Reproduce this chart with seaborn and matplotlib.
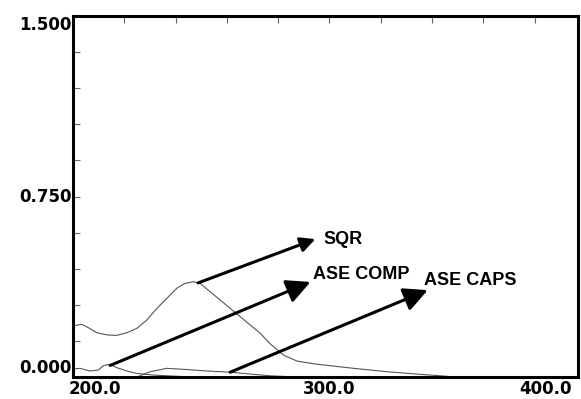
import pandas as pd
import matplotlib
matplotlib.use("Agg")
import matplotlib.pyplot as plt
import seaborn as sns

# spectra (wavelength nm, absorbance)
wl_sqr = [200.0, 200.4, 203.4, 206.0, 209.3, 213.2, 217.1, 221.0, 224.9, 228.8,
          232.7, 236.6, 240.5, 243.7, 247.0, 249.6, 253.5, 257.4, 261.3, 265.2,
          269.1, 273.0, 277.0, 282.1, 287.4, 295.2, 309.5, 322.5, 335.5, 346.0]
abs_sqr = [0.208, 0.213, 0.219, 0.205, 0.184, 0.175, 0.173, 0.184, 0.202, 0.237,
           0.285, 0.327, 0.369, 0.389, 0.396, 0.389, 0.354, 0.320, 0.285, 0.251,
           0.216, 0.182, 0.137, 0.091, 0.066, 0.053, 0.036, 0.022, 0.011, 0.003]

wl_comp = [200.0, 202.7, 206.6, 209.9, 211.8, 214.2, 217.1, 221.0, 224.9, 231.4, 244.4, 257.4]
abs_comp = [0.033, 0.036, 0.025, 0.029, 0.047, 0.053, 0.039, 0.025, 0.015, 0.008, 0.001, 0.0]

wl_caps = [224.9, 230.1, 236.6, 243.1, 250.9, 261.3, 270.4, 277.0, 287.4]
abs_caps = [0.0, 0.022, 0.036, 0.032, 0.026, 0.020, 0.011, 0.005, 0.0]

# arrow labels: name, arrow start, arrow tip, text anchor
labels = ["SQR", "ASE COMP", "ASE CAPS"]
arrow_start = [(248.8, 0.391), (214.5, 0.048), (261.3, 0.020)]
arrow_tip = [(294.5, 0.573), (292.6, 0.395), (338.3, 0.361)]
text_pos = [(297.7, 0.570), (293.4, 0.424), (336.7, 0.403)]
head_size = [11, 18, 18]

x_labels = ["200.0", "300.0", "400.0"]
y_labels = ["0.000", "0.750", "1.500"]

sns.set_style("white")

df = pd.concat([
    pd.DataFrame({"wl": wl_sqr, "abs": abs_sqr, "name": "SQR"}),
    pd.DataFrame({"wl": wl_comp, "abs": abs_comp, "name": "ASE COMP"}),
    pd.DataFrame({"wl": wl_caps, "abs": abs_caps, "name": "ASE CAPS"}),
])

fig = plt.figure(figsize=(5.81, 3.99), dpi=100)
ax = fig.add_axes([0.1256, 0.0551, 0.8692, 0.9048])

sns.lineplot(data=df, x="wl", y="abs", units="name", estimator=None,
             color="#555555", linewidth=0.8, ax=ax, legend=False)

ax.set_xlim(200, 396.9)
ax.set_ylim(0, 1.5)

for s in ax.spines.values():
    s.set_color("black")
    s.set_linewidth(2.2)

# inward ticks: left every 0.15, top every 20 nm
ax.set_yticks([i * 0.15 for i in range(11)])
ax.set_yticklabels([])
ax.set_xticks([200 + 20 * i for i in range(10)])
ax.set_xticklabels([])
ax.tick_params(axis="y", direction="in", length=5, width=0.8, color="#666666", left=True)
ax.tick_params(axis="x", direction="in", length=5, width=0.8, color="#666666",
               top=True, bottom=False)
ax.set_xlabel("")
ax.set_ylabel("")

tick_font = dict(family="DejaVu Sans", fontweight="bold", fontsize=12, color="black")
ax.text(198.3, -0.012, x_labels[0], ha="left", va="top", clip_on=False, **tick_font)
ax.text(300, -0.012, x_labels[1], ha="center", va="top", clip_on=False, **tick_font)
ax.text(374.0, -0.012, x_labels[2], ha="left", va="top", clip_on=False, **tick_font)

ax.text(199.5, 0.0, y_labels[0], ha="right", va="bottom", clip_on=False, **tick_font)
ax.text(199.5, 0.75, y_labels[1], ha="right", va="center", clip_on=False, **tick_font)
ax.text(199.5, 1.5, y_labels[2], ha="right", va="top", clip_on=False, **tick_font)

for name, s, t, p, hs in zip(labels, arrow_start, arrow_tip, text_pos, head_size):
    ax.annotate("", xy=t, xytext=s,
                arrowprops=dict(arrowstyle="-|>,head_length=0.8,head_width=0.4",
                                mutation_scale=hs, lw=2.2, color="black",
                                shrinkA=0, shrinkB=0))
    ax.text(p[0], p[1], name, ha="left", va="center", fontsize=13,
            fontweight="bold", family="Liberation Sans", color="black")

fig.savefig("out.png", dpi=100)
